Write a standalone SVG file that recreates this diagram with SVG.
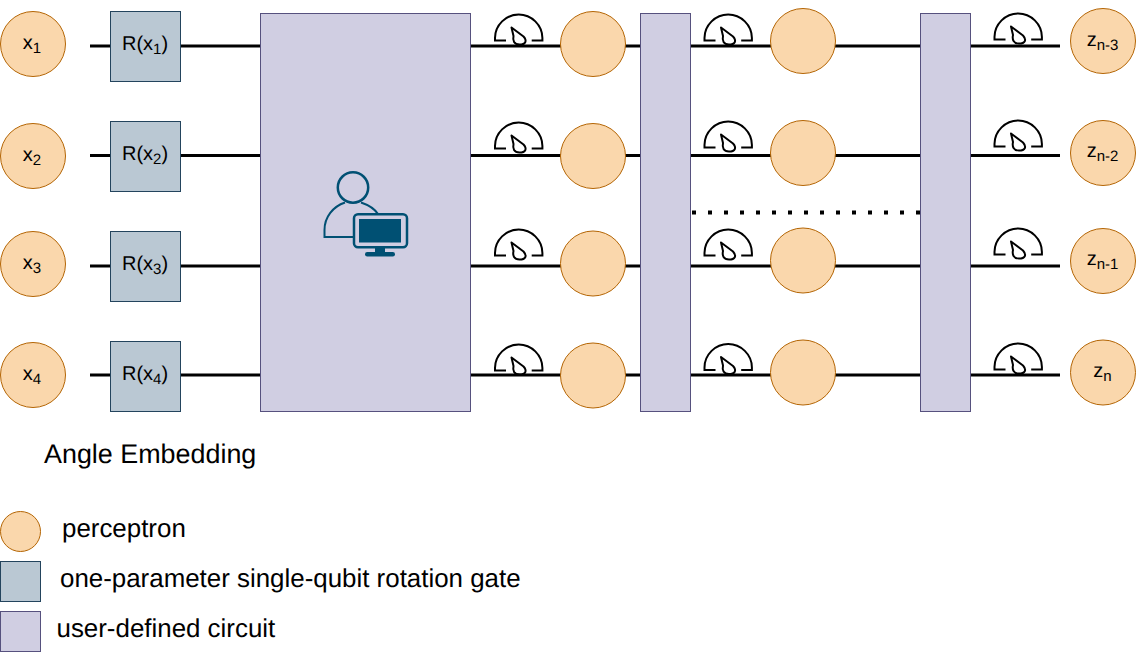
<svg xmlns="http://www.w3.org/2000/svg" xmlns:xlink="http://www.w3.org/1999/xlink" width="1136" height="652" viewBox="0 0 1136 652">
<style>
text{font-family:"Liberation Sans",Arial,sans-serif;fill:#000;text-rendering:geometricPrecision}
.p{fill:#fad7ac;stroke:#b46504;stroke-width:1}
.g{fill:#bac8d3;stroke:#23445d;stroke-width:1}
.u{fill:#d0cee2;stroke:#56517e;stroke-width:1}
.w{stroke:#000;stroke-width:3;fill:none}
.m{fill:none;stroke:#000;stroke-width:2}
.t{font-size:20px;text-anchor:middle}
.s{font-size:15px}
.l{font-size:26.900px}
.k{font-size:25.900px}
</style>
<defs>
<g id="meter">
<path class="m" d="M11.500 26.500H0.500V24C0.500 11 11.500 0.500 24.200 0.500S47.900 11 47.900 24V26.500H37.200"/>
<path class="m" d="M17 13.500L29 22.500C33 27 31 30.500 25 30.500C19.500 30.500 18 26.500 19 22Z" stroke-linejoin="round"/>
</g>
</defs>
<g id="connectors">
<path class="w" d="M90 46H110M180 46H260M90 155.500H110M180 155.500H260M90 266H110M180 266H260M90 375H110M180 375H260"/>
<path class="w" d="M470 46H640M470 155.500H640M470 266H640M470 375H640"/>
<path class="w" d="M690 46H920M690 155.500H920M690 266H920M690 375H920"/>
<path class="w" d="M970 46H1060M970 155.500H1060M970 266H1060M970 375H1060"/>
<path id="dots" d="M692 212.500H920" stroke="#000" stroke-width="4" stroke-dasharray="4 12" fill="none"/>
</g>
<g id="meters">
<use xlink:href="#meter" href="#meter" x="494.500" y="14"/>
<use xlink:href="#meter" href="#meter" x="494.500" y="122"/>
<use xlink:href="#meter" href="#meter" x="494.500" y="229"/>
<use xlink:href="#meter" href="#meter" x="494.500" y="344"/>
<use xlink:href="#meter" href="#meter" x="704" y="14"/>
<use xlink:href="#meter" href="#meter" x="704" y="121"/>
<use xlink:href="#meter" href="#meter" x="704" y="229"/>
<use xlink:href="#meter" href="#meter" x="704" y="343.500"/>
<use xlink:href="#meter" href="#meter" x="994" y="13"/>
<use xlink:href="#meter" href="#meter" x="994" y="120"/>
<use xlink:href="#meter" href="#meter" x="994" y="228"/>
<use xlink:href="#meter" href="#meter" x="994" y="343"/>
</g>
<g id="x1"><circle class="p" cx="33" cy="44" r="32.500"/><text class="t" x="32" y="49">x<tspan class="s" dy="4">1</tspan></text></g>
<g id="x2"><circle class="p" cx="33" cy="156" r="32.500"/><text class="t" x="32" y="161">x<tspan class="s" dy="4">2</tspan></text></g>
<g id="x3"><circle class="p" cx="33" cy="264" r="32.500"/><text class="t" x="32" y="269">x<tspan class="s" dy="4">3</tspan></text></g>
<g id="x4"><circle class="p" cx="33" cy="375" r="32.500"/><text class="t" x="32" y="380">x<tspan class="s" dy="4">4</tspan></text></g>
<g id="rx1"><rect class="g" x="110.500" y="11.500" width="70" height="70"/><text class="t" x="145" y="50">R(x<tspan class="s" dy="4">1</tspan><tspan dy="-4">)</tspan></text></g>
<g id="rx2"><rect class="g" x="110.500" y="121.500" width="70" height="70"/><text class="t" x="145" y="160">R(x<tspan class="s" dy="4">2</tspan><tspan dy="-4">)</tspan></text></g>
<g id="rx3"><rect class="g" x="110.500" y="231.500" width="70" height="70"/><text class="t" x="145" y="270">R(x<tspan class="s" dy="4">3</tspan><tspan dy="-4">)</tspan></text></g>
<g id="rx4"><rect class="g" x="110.500" y="341.500" width="70" height="70"/><text class="t" x="145" y="380">R(x<tspan class="s" dy="4">4</tspan><tspan dy="-4">)</tspan></text></g>
<g id="circuit-main"><rect class="u" x="260.500" y="13.500" width="210" height="398"/>
<path d="M353 237H324.500V230C324.500 217 333 206.500 345 202.500M361 202.500C367 204.500 374 208 378 214" fill="none" stroke="#005073" stroke-width="2"/>
<circle cx="353" cy="187.500" r="15.200" fill="none" stroke="#005073" stroke-width="2.500"/>
<rect x="354" y="214.200" width="53" height="33" rx="4" fill="#d0cee2" stroke="#005073" stroke-width="2.500"/>
<g fill="#005073">
<rect x="359" y="219" width="42" height="23.500"/>
<rect x="375" y="248" width="10" height="5"/>
<rect x="365" y="252" width="30" height="4.500" rx="2.200"/>
</g></g>
<g id="n1"><circle class="p" cx="593" cy="44" r="32.500"/></g>
<g id="n2"><circle class="p" cx="593" cy="156" r="32.500"/></g>
<g id="n3"><circle class="p" cx="593" cy="263.500" r="32.500"/></g>
<g id="n4"><circle class="p" cx="593" cy="375.500" r="32.500"/></g>
<g id="circuit-a"><rect class="u" x="640.500" y="13.500" width="50" height="398"/></g>
<g id="n5"><circle class="p" cx="803" cy="41" r="32.500"/></g>
<g id="n6"><circle class="p" cx="803" cy="153" r="32.500"/></g>
<g id="n7"><circle class="p" cx="803" cy="260.500" r="32.500"/></g>
<g id="n8"><circle class="p" cx="803" cy="372.500" r="32.500"/></g>
<g id="circuit-b"><rect class="u" x="920.500" y="13.500" width="50" height="398"/></g>
<g id="z1"><circle class="p" cx="1103" cy="41" r="32.500"/><text class="t" x="1102.500" y="46">z<tspan class="s" dy="4">n-3</tspan></text></g>
<g id="z2"><circle class="p" cx="1103" cy="153" r="32.500"/><text class="t" x="1102.500" y="157">z<tspan class="s" dy="4">n-2</tspan></text></g>
<g id="z3"><circle class="p" cx="1103" cy="261" r="32.500"/><text class="t" x="1102.500" y="265">z<tspan class="s" dy="4">n-1</tspan></text></g>
<g id="z4"><circle class="p" cx="1103" cy="372.500" r="32.500"/><text class="t" x="1102.500" y="377">z<tspan class="s" dy="4">n</tspan></text></g>
<text x="44" y="463" class="l">Angle Embedding</text>
<g id="legend-perceptron"><circle class="p" cx="20.500" cy="531.500" r="20"/><text class="k" x="62" y="537">perceptron</text></g>
<g id="legend-gate"><rect class="g" x="0.500" y="561.500" width="40" height="40"/><text class="k" x="60" y="587">one-parameter single-qubit rotation gate</text></g>
<g id="legend-circuit"><rect class="u" x="0.500" y="611.500" width="40" height="40"/><text class="k" x="56.500" y="637">user-defined circuit</text></g>
</svg>
